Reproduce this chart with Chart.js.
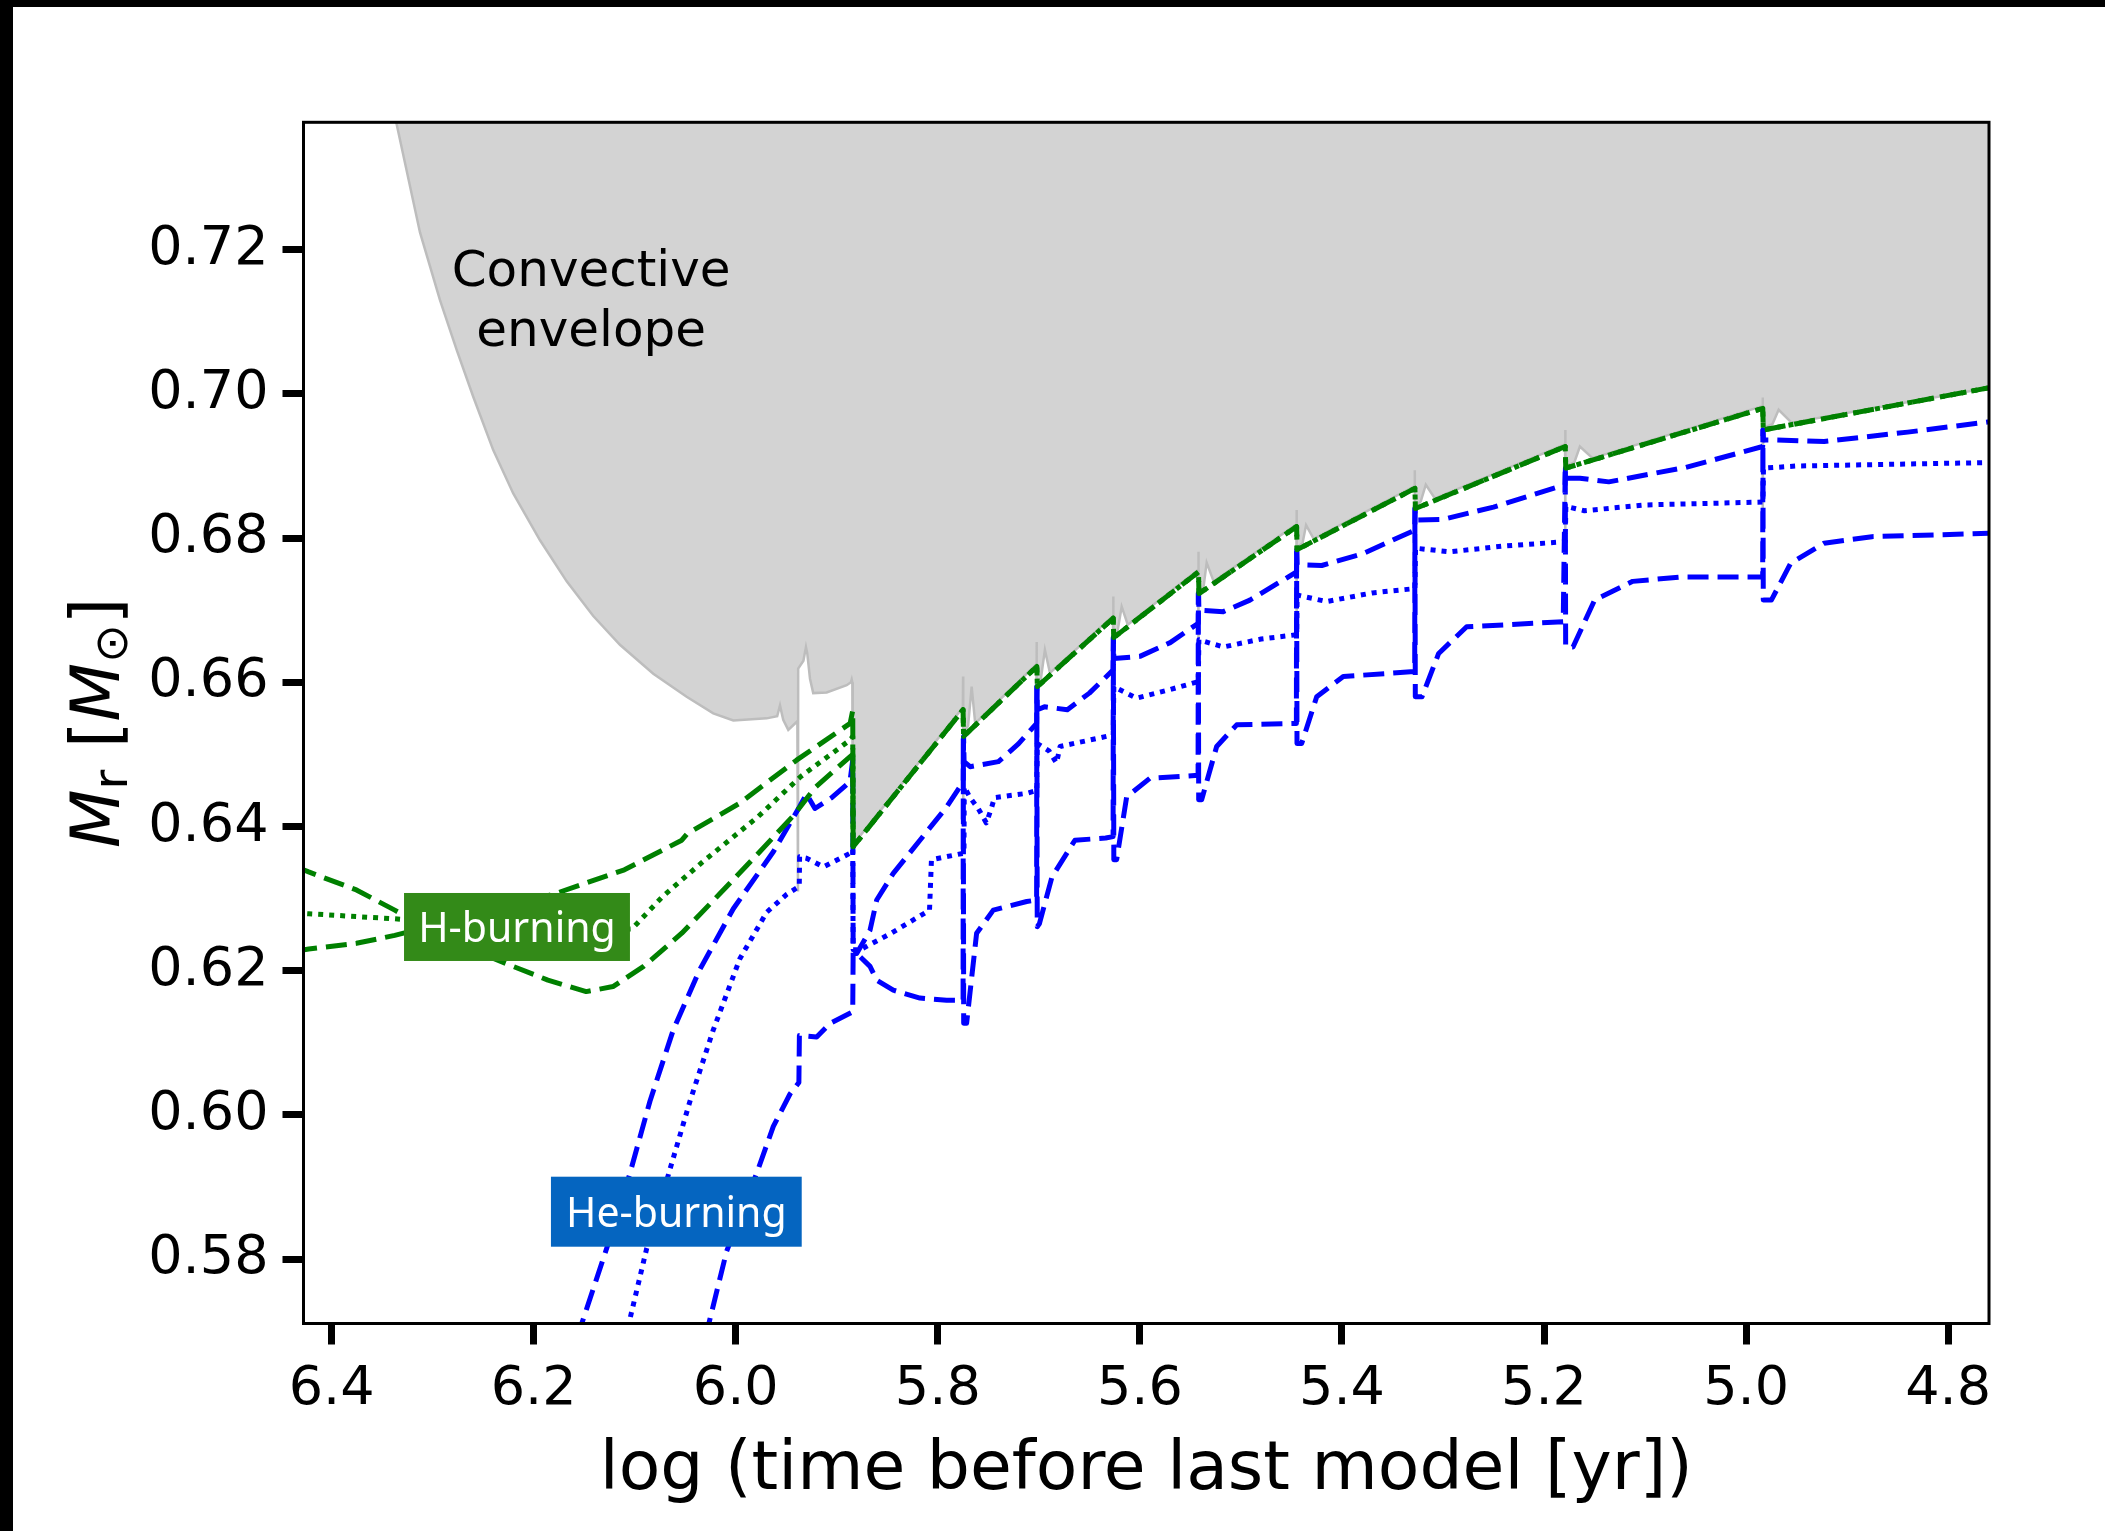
<!DOCTYPE html>
<html>
<head>
<meta charset="utf-8">
<script src="https://cdn.jsdelivr.net/npm/chart.js@4.4.1/dist/chart.umd.min.js"></script>
<style>
  html, body { margin: 0; padding: 0; background: #000; }
  #wrap { position: absolute; left: 13px; top: 7px; width: 2092px; height: 1524px; background: #fff; }
</style>
</head>
<body>
<div id="wrap"><canvas id="chart" width="2092" height="1524"></canvas></div>
<script>
// axis ticks
const xTicks = [6.4, 6.2, 6.0, 5.8, 5.6, 5.4, 5.2, 5.0, 4.8];
const yTicks = [0.58, 0.60, 0.62, 0.64, 0.66, 0.68, 0.70, 0.72];

// lower edge of the convective envelope  [log t, Mr]
const envelopeEdge = [
    [6.3397, 0.7400], [6.3356, 0.7374], [6.3125, 0.7224], [6.2927, 0.7130], [6.2762, 0.7061],
    [6.2598, 0.6996], [6.2400, 0.6922], [6.2202, 0.6862], [6.1937, 0.6797], [6.1673, 0.6740],
    [6.1410, 0.6692], [6.1146, 0.6652], [6.0816, 0.6612], [6.0486, 0.6580], [6.0222, 0.6557],
    [6.0024, 0.6547], [5.9694, 0.6550], [5.9590, 0.6553], [5.9562, 0.6568], [5.9530, 0.6548],
    [5.9480, 0.6534], [5.9390, 0.6546], [5.9384, 0.6310],
    [5.9382, 0.6619], [5.9330, 0.6630], [5.9305, 0.6649], [5.9292, 0.6640], [5.9265, 0.6605],
    [5.9233, 0.6585], [5.9100, 0.6586], [5.8902, 0.6596], [5.8860, 0.6600], [5.8852, 0.6604],
    [5.8846, 0.6600], [5.8842, 0.6375],
    [5.8838, 0.6375], [5.7752, 0.6565], [5.7750, 0.6608], [5.7749, 0.6400],
    [5.7747, 0.6528], [5.7700, 0.6540], [5.7665, 0.6594], [5.7630, 0.6543],
    [5.7024, 0.6625], [5.7022, 0.6656], [5.7021, 0.6500], [5.7017, 0.6597], [5.6980, 0.6605],
    [5.6940, 0.6645], [5.6890, 0.6613],
    [5.6266, 0.6692], [5.6265, 0.6719], [5.6263, 0.6575], [5.6260, 0.6665], [5.6220, 0.6672],
    [5.6180, 0.6705], [5.6120, 0.6680],
    [5.5423, 0.6756], [5.5422, 0.6781], [5.5420, 0.6645], [5.5417, 0.6726], [5.5370, 0.6732],
    [5.5339, 0.6766], [5.5270, 0.6740],
    [5.4451, 0.6819], [5.4450, 0.6839], [5.4448, 0.6676], [5.4446, 0.6787], [5.4390, 0.6793],
    [5.4355, 0.6818], [5.4280, 0.6799],
    [5.3280, 0.6872], [5.3279, 0.6894], [5.3277, 0.6749], [5.3275, 0.6844], [5.3220, 0.6851],
    [5.3170, 0.6874], [5.3080, 0.6855],
    [5.1792, 0.6930], [5.1791, 0.6950], [5.1789, 0.6786], [5.1787, 0.6900], [5.1700, 0.6905],
    [5.1645, 0.6927], [5.1520, 0.6911],
    [4.9837, 0.6983], [4.9836, 0.6995], [4.9834, 0.6840], [4.9831, 0.6953], [4.9740, 0.6958],
    [4.9678, 0.6978], [4.9550, 0.6960], [4.7500, 0.7011]
];

// H-burning shell; upper edge and peak share one track after the first big pulse
const hMerged = [
    [5.8838, 0.6372], [5.7750, 0.6562], [5.7745, 0.6525], [5.7020, 0.6622],
    [5.7015, 0.6594], [5.6264, 0.6689], [5.6259, 0.6662], [5.5420, 0.6753], [5.5415, 0.6723],
    [5.4449, 0.6816], [5.4444, 0.6784], [5.3278, 0.6869], [5.3273, 0.6841], [5.1790, 0.6927],
    [5.1785, 0.6897], [4.9835, 0.6980], [4.9830, 0.6950], [4.7500, 0.7011]
];
const hLower = [
    [6.4350, 0.6344], [6.4227, 0.6337], [6.3754, 0.6312], [6.3375, 0.6284], [6.2800, 0.6240],
    [6.2276, 0.6210], [6.1859, 0.6187], [6.1480, 0.6171], [6.1215, 0.6178], [6.0912, 0.6206],
    [6.0534, 0.6252], [6.0156, 0.6307], [5.9776, 0.6363], [5.9436, 0.6414], [5.9208, 0.6455],
    [5.8868, 0.6497], [5.8842, 0.6500], [5.8838, 0.6372]
];
const hPeak = [
    [6.4350, 0.6280], [6.4227, 0.6279], [6.3375, 0.6272], [6.2500, 0.6262], [6.1600, 0.6255],
    [6.1027, 0.6258], [6.0723, 0.6303], [6.0344, 0.6349], [5.9776, 0.6414], [5.9359, 0.6469],
    [5.8868, 0.6520], [5.8842, 0.6525]
];
const hUpper = [
    [6.4350, 0.6227], [6.4227, 0.6230], [6.3754, 0.6238], [6.3375, 0.6249], [6.2500, 0.6280],
    [6.1784, 0.6307], [6.1102, 0.6340], [6.0534, 0.6381], [6.0480, 0.6390], [5.9965, 0.6432],
    [5.9398, 0.6492], [5.8868, 0.6543], [5.8842, 0.6561]
];

// He-burning shell
const heUpper = [
    [6.1573, 0.5690], [6.1509, 0.5717], [6.1277, 0.5815], [6.1047, 0.5919], [6.0849, 0.6019],
    [6.0618, 0.6118], [6.0354, 0.6202], [6.0024, 0.6286], [5.9628, 0.6365], [5.9370, 0.6427],
    [5.9300, 0.6445], [5.9216, 0.6425], [5.9050, 0.6440], [5.8870, 0.6462], [5.8842, 0.6492],
    [5.8838, 0.6224], [5.8803, 0.6224], [5.8671, 0.6256], [5.8605, 0.6298], [5.8441, 0.6335],
    [5.8177, 0.6381], [5.7913, 0.6427], [5.7748, 0.6462], [5.7745, 0.6525], [5.7740, 0.6490],
    [5.7680, 0.6483], [5.7400, 0.6490], [5.7200, 0.6515], [5.7022, 0.6543], [5.7018, 0.6594],
    [5.7015, 0.6562], [5.6945, 0.6566], [5.6718, 0.6562], [5.6500, 0.6585], [5.6266, 0.6617],
    [5.6262, 0.6662], [5.6258, 0.6633], [5.6000, 0.6636], [5.5700, 0.6655], [5.5422, 0.6682],
    [5.5419, 0.6723], [5.5416, 0.6700], [5.5175, 0.6698], [5.4911, 0.6714], [5.4450, 0.6753],
    [5.4447, 0.6784], [5.4443, 0.6763], [5.4200, 0.6762], [5.3800, 0.6778], [5.3280, 0.6811],
    [5.3276, 0.6841], [5.3272, 0.6825], [5.3000, 0.6826], [5.2500, 0.6843], [5.1792, 0.6874],
    [5.1788, 0.6897], [5.1784, 0.6883], [5.1645, 0.6883], [5.1359, 0.6878], [5.0600, 0.6898],
    [4.9836, 0.6927], [4.9832, 0.6950], [4.9828, 0.6936], [4.9702, 0.6936], [4.9228, 0.6934],
    [4.8400, 0.6947], [4.7500, 0.6963]
];
const hePeak = [
    [6.1093, 0.5690], [6.1047, 0.5717], [6.0881, 0.5815], [6.0650, 0.5925], [6.0453, 0.6019],
    [6.0222, 0.6118], [5.9958, 0.6217], [5.9694, 0.6281], [5.9496, 0.6306], [5.9371, 0.6317],
    [5.9368, 0.6358], [5.9300, 0.6356], [5.9133, 0.6344], [5.8868, 0.6363], [5.8842, 0.6368],
    [5.8838, 0.6229], [5.8770, 0.6229], [5.8461, 0.6252], [5.8082, 0.6284], [5.8063, 0.6354],
    [5.7741, 0.6363], [5.7738, 0.6455], [5.7680, 0.6440], [5.7600, 0.6425], [5.7520, 0.6405],
    [5.7470, 0.6425], [5.7440, 0.6440], [5.7120, 0.6446], [5.7020, 0.6450], [5.7016, 0.6515],
    [5.6900, 0.6505], [5.6825, 0.6488], [5.6790, 0.6511], [5.6264, 0.6527], [5.6258, 0.6594],
    [5.6032, 0.6578], [5.5700, 0.6590], [5.5422, 0.6601], [5.5416, 0.6659], [5.5175, 0.6649],
    [5.4800, 0.6660], [5.4449, 0.6666], [5.4443, 0.6721], [5.4152, 0.6712], [5.3700, 0.6724],
    [5.3278, 0.6730], [5.3272, 0.6786], [5.2931, 0.6781], [5.2400, 0.6789], [5.1790, 0.6795],
    [5.1784, 0.6844], [5.1600, 0.6838], [5.1000, 0.6846], [4.9834, 0.6850], [4.9828, 0.6897],
    [4.9500, 0.6900], [4.7500, 0.6905]
];
const heLower = [
    [6.0302, 0.5690], [6.0255, 0.5717], [6.0090, 0.5811], [5.9793, 0.5919], [5.9628, 0.5984],
    [5.9463, 0.6029], [5.9375, 0.6045], [5.9370, 0.6110], [5.9199, 0.6108], [5.9067, 0.6127],
    [5.8870, 0.6141], [5.8842, 0.6143], [5.8838, 0.6224], [5.8803, 0.6224], [5.8671, 0.6206],
    [5.8605, 0.6187], [5.8441, 0.6173], [5.8177, 0.6162], [5.7913, 0.6159], [5.7750, 0.6159],
    [5.7748, 0.6525], [5.7744, 0.6127], [5.7715, 0.6127], [5.7616, 0.6252], [5.7451, 0.6284],
    [5.7120, 0.6296], [5.7022, 0.6298], [5.7020, 0.6594], [5.7016, 0.6261], [5.6995, 0.6265],
    [5.6870, 0.6330], [5.6643, 0.6381], [5.6339, 0.6384], [5.6265, 0.6386], [5.6263, 0.6662],
    [5.6258, 0.6354], [5.6230, 0.6354], [5.6131, 0.6441], [5.5900, 0.6467], [5.5424, 0.6471],
    [5.5422, 0.6723], [5.5418, 0.6437], [5.5389, 0.6437], [5.5240, 0.6511], [5.5042, 0.6541],
    [5.4451, 0.6543], [5.4449, 0.6784], [5.4445, 0.6515], [5.4399, 0.6515], [5.4250, 0.6580],
    [5.3987, 0.6608], [5.3280, 0.6615], [5.3278, 0.6841], [5.3274, 0.6580], [5.3208, 0.6580],
    [5.3043, 0.6640], [5.2766, 0.6677], [5.1810, 0.6684], [5.1790, 0.6897], [5.1786, 0.6649],
    [5.1713, 0.6649], [5.1500, 0.6714], [5.1122, 0.6740], [5.0649, 0.6746], [4.9836, 0.6746],
    [4.9834, 0.6950], [4.9830, 0.6714], [4.9750, 0.6714], [4.9559, 0.6765], [4.9228, 0.6793],
    [4.8755, 0.6802], [4.7500, 0.6807]
];

// texts
const xTitle = 'log (time before last model [yr])';
const envelopeText = ['Convective', 'envelope'];

// where the annotations sit, in data units
const envelopeTextAt = { x: 6.1431, y: [0.71503, 0.70664] };
const labelBoxes = [
    { text: 'H-burning', color: '#338a18', x0: 6.3283, x1: 6.1047, y0: 0.62135, y1: 0.63078 },
    { text: 'He-burning', color: '#0565c0', x0: 6.1829, x1: 5.9347, y0: 0.58172, y1: 0.59143 }
];

const GREEN = '#008000';
const BLUE = '#0000ff';
const DASH = [21, 9];
const DOT = [5, 6];

function toXY(pts) {
    return pts.map(p => ({ x: p[0], y: p[1] }));
}

function shell(points, color, dash) {
    return {
        data: toXY(points),
        borderColor: color,
        borderWidth: 5,
        borderDash: dash,
        borderJoinStyle: 'round',
        pointRadius: 0,
        tension: 0,
        fill: false,
        order: 0
    };
}

const annotate = {
    id: 'annotate',
    afterDatasetsDraw(chart) {
        const { ctx, chartArea: a, scales: { x, y } } = chart;
        ctx.save();
        ctx.textAlign = 'center';
        ctx.textBaseline = 'alphabetic';

        ctx.fillStyle = '#000';
        ctx.font = '50px "DejaVu Sans"';
        envelopeText.forEach((line, i) => {
            ctx.fillText(line, x.getPixelForValue(envelopeTextAt.x), y.getPixelForValue(envelopeTextAt.y[i]));
        });

        labelBoxes.forEach(b => {
            const l = Math.min(x.getPixelForValue(b.x0), x.getPixelForValue(b.x1));
            const r = Math.max(x.getPixelForValue(b.x0), x.getPixelForValue(b.x1));
            const t = y.getPixelForValue(b.y1);
            const bt = y.getPixelForValue(b.y0);
            ctx.fillStyle = b.color;
            ctx.fillRect(l, t, r - l, bt - t);
            ctx.fillStyle = '#fff';
            ctx.font = '41px "Noto Sans"';
            ctx.fillText(b.text, (l + r) / 2, t + (bt - t) * 0.72);
        });

        // frame
        ctx.strokeStyle = '#000';
        ctx.lineWidth = 3;
        ctx.strokeRect(a.left, a.top, a.right - a.left, a.bottom - a.top);
        ctx.restore();
    },
    afterDraw(chart) {
        const { ctx, chartArea: a } = chart;
        ctx.save();
        ctx.fillStyle = '#000';
        ctx.textBaseline = 'alphabetic';

        ctx.textAlign = 'center';
        ctx.font = '68px "DejaVu Sans"';
        ctx.fillText(xTitle, (a.left + a.right) / 2, a.bottom + 165);

        // y title: M_r [M_sun], written bottom to top
        const parts = [
            { t: 'M', f: 'italic 68px "DejaVu Sans"', dy: 0 },
            { t: 'r', f: '48px "DejaVu Sans"', dy: 8 },
            { t: ' [', f: '68px "DejaVu Sans"', dy: 0 },
            { t: 'M', f: 'italic 68px "DejaVu Sans"', dy: 0 },
            { t: '\u2299', f: '46px "DejaVu Sans"', dy: 8 },
            { t: ']', f: '68px "DejaVu Sans"', dy: 0 }
        ];
        let total = 0;
        parts.forEach(p => { ctx.font = p.f; p.w = ctx.measureText(p.t).width; total += p.w; });
        ctx.translate(a.left - 185, (a.top + a.bottom) / 2);
        ctx.rotate(-Math.PI / 2);
        ctx.textAlign = 'left';
        let cx = -total / 2;
        parts.forEach(p => {
            ctx.font = p.f;
            ctx.fillText(p.t, cx, p.dy);
            cx += p.w;
        });
        ctx.restore();
    }
};

const tickFont = { family: 'DejaVu Sans', size: 54 };

new Chart(document.getElementById('chart'), {
    type: 'line',
    data: {
        datasets: [
            shell(hUpper.concat(hMerged), GREEN, DASH),
            shell(hPeak.concat(hMerged), GREEN, DOT),
            shell(hLower, GREEN, DASH),
            shell(heUpper, BLUE, DASH),
            shell(hePeak, BLUE, DOT),
            shell(heLower, BLUE, DASH),
            {
                data: toXY(envelopeEdge),
                borderColor: '#bdbdbd',
                borderWidth: 2.5,
                backgroundColor: '#d3d3d3',
                fill: 'end',
                pointRadius: 0,
                tension: 0,
                order: 1
            }
        ]
    },
    options: {
        responsive: false,
        animation: false,
        devicePixelRatio: 1,
        layout: { padding: { left: 0, right: 116, top: 115.3, bottom: 0 } },
        plugins: { legend: { display: false }, tooltip: { enabled: false } },
        scales: {
            x: {
                type: 'linear',
                reverse: true,
                min: 4.7596,
                max: 6.4278,
                afterBuildTicks: s => { s.ticks = xTicks.map(v => ({ value: v })); },
                afterFit: s => { s.height = 207.5; },
                border: { display: false },
                grid: { drawOnChartArea: false, drawTicks: true, tickLength: 21, tickWidth: 7, lineWidth: 7, tickColor: '#000', color: '#000' },
                ticks: { font: tickFont, color: '#000', padding: 13, maxRotation: 0, autoSkip: false, callback: v => v.toFixed(1) }
            },
            y: {
                type: 'linear',
                min: 0.57107,
                max: 0.73767,
                afterBuildTicks: s => { s.ticks = yTicks.map(v => ({ value: v })); },
                afterFit: s => { s.width = 290.5; },
                border: { display: false },
                grid: { drawOnChartArea: false, drawTicks: true, tickLength: 21, tickWidth: 7, lineWidth: 7, tickColor: '#000', color: '#000' },
                ticks: { font: tickFont, color: '#000', padding: 14, autoSkip: false, callback: v => v.toFixed(2) }
            }
        }
    },
    plugins: [annotate]
});
</script>
</body>
</html>
